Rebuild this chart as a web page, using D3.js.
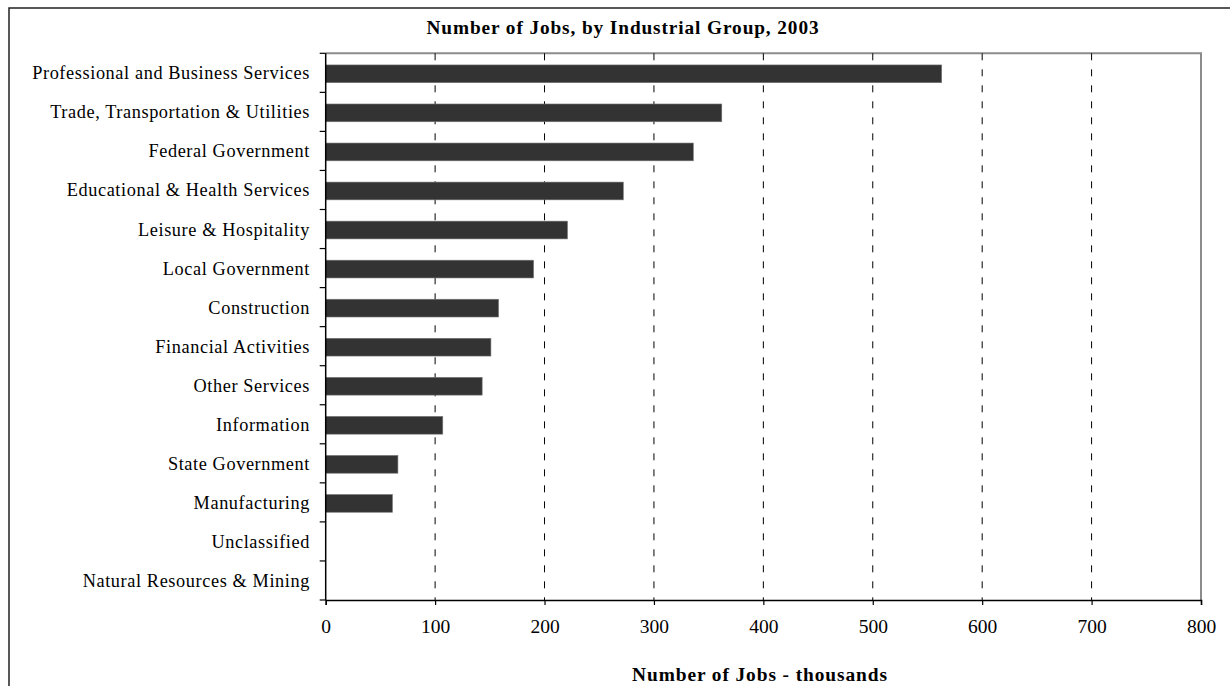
<!DOCTYPE html>
<html>
<head>
<meta charset="utf-8">
<script src="https://cdn.jsdelivr.net/npm/d3@7"></script>
<style>
  html, body { margin: 0; padding: 0; background: #fff; }
  svg { display: block; }
  text { font-family: "Liberation Serif", "Times New Roman", serif; fill: #000; }
</style>
</head>
<body>
<svg id="chart" width="1230" height="686"></svg>
<script>
// Jobs by industrial group, 2003 (thousands)
const categories = [
  "Professional and Business Services",
  "Trade, Transportation & Utilities",
  "Federal Government",
  "Educational & Health Services",
  "Leisure & Hospitality",
  "Local Government",
  "Construction",
  "Financial Activities",
  "Other Services",
  "Information",
  "State Government",
  "Manufacturing",
  "Unclassified",
  "Natural Resources & Mining"
];
const jobs = [563, 362, 336, 272, 221, 190, 158, 151, 143, 107, 66, 61, 0, 0];
const xTicks = [0, 100, 200, 300, 400, 500, 600, 700, 800];
const chartTitle = "Number of Jobs, by Industrial Group, 2003";
const xTitle = "Number of Jobs - thousands";

const svg = d3.select("#chart");
const plot = { left: 325.7, right: 1201, top: 53.3, bottom: 600 };

const x = d3.scaleLinear().domain([0, 800]).range([plot.left, plot.right]);
const y = d3.scaleBand().domain(categories).range([plot.top, plot.bottom]).padding(0);
const barH = y.bandwidth() * 0.455;

// outer chart frame
svg.append("rect")
  .attr("x", 9).attr("y", 8)
  .attr("width", 1240).attr("height", 700)
  .attr("fill", "none").attr("stroke", "#222").attr("stroke-width", 1.5);

// plot area border (top and right)
svg.append("path")
  .attr("d", `M${plot.left},${plot.top}H${plot.right}V${plot.bottom}`)
  .attr("fill", "none").attr("stroke", "#8c8c8c").attr("stroke-width", 2);

// dashed vertical gridlines
svg.append("g").selectAll("line")
  .data(xTicks.filter(d => d > 0 && d < 800))
  .join("line")
  .attr("x1", d => x(d)).attr("x2", d => x(d))
  .attr("y1", plot.top).attr("y2", plot.bottom)
  .attr("stroke", "#000").attr("stroke-width", 1)
  .attr("stroke-dasharray", "7,9");

// bars
svg.append("g").selectAll("rect")
  .data(categories.map((c, i) => ({ c, v: jobs[i] })))
  .join("rect")
  .attr("x", x(0))
  .attr("y", d => y(d.c) + y.bandwidth() / 2 - barH / 2 + 1)
  .attr("width", d => x(d.v) - x(0))
  .attr("height", barH)
  .attr("fill", "#333333")
  .attr("stroke", "#777").attr("stroke-width", 0.6);

// y axis: line, band-boundary ticks, category labels
const yAxis = svg.append("g");
yAxis.append("line")
  .attr("x1", plot.left).attr("x2", plot.left)
  .attr("y1", plot.top).attr("y2", plot.bottom)
  .attr("stroke", "#000").attr("stroke-width", 1.5);
const bounds = categories.map(c => y(c)).concat([plot.bottom]);
yAxis.selectAll("line.tick")
  .data(bounds)
  .join("line")
  .attr("class", "tick")
  .attr("x1", plot.left - 6).attr("x2", plot.left)
  .attr("y1", d => d).attr("y2", d => d)
  .attr("stroke", "#000").attr("stroke-width", 1.2);
yAxis.selectAll("text")
  .data(categories)
  .join("text")
  .attr("x", 310)
  .attr("y", d => y(d) + y.bandwidth() / 2 + 6.5)
  .attr("text-anchor", "end")
  .attr("font-size", 18.3)
  .attr("letter-spacing", 0.6)
  .text(d => d);

// x axis
const xAxis = d3.axisBottom(x).tickValues(xTicks).tickSize(5).tickPadding(14).tickFormat(d3.format("d"));
const gx = svg.append("g")
  .attr("transform", `translate(0,${plot.bottom})`)
  .call(xAxis);
gx.select(".domain").attr("stroke", "#000").attr("stroke-width", 1.5);
gx.selectAll(".tick line").attr("stroke", "#000").attr("stroke-width", 1.2);
gx.selectAll(".tick text")
  .attr("font-family", "Liberation Serif, Times New Roman, serif")
  .attr("font-size", 19.5)
  .attr("fill", "#000");

// titles
svg.append("text")
  .attr("x", 623).attr("y", 34)
  .attr("text-anchor", "middle")
  .attr("font-size", 19.3)
  .attr("font-weight", "bold")
  .attr("letter-spacing", 0.9)
  .text(chartTitle);

svg.append("text")
  .attr("x", 760).attr("y", 681)
  .attr("text-anchor", "middle")
  .attr("font-size", 19.4)
  .attr("font-weight", "bold")
  .attr("letter-spacing", 0.9)
  .text(xTitle);
</script>
</body>
</html>
